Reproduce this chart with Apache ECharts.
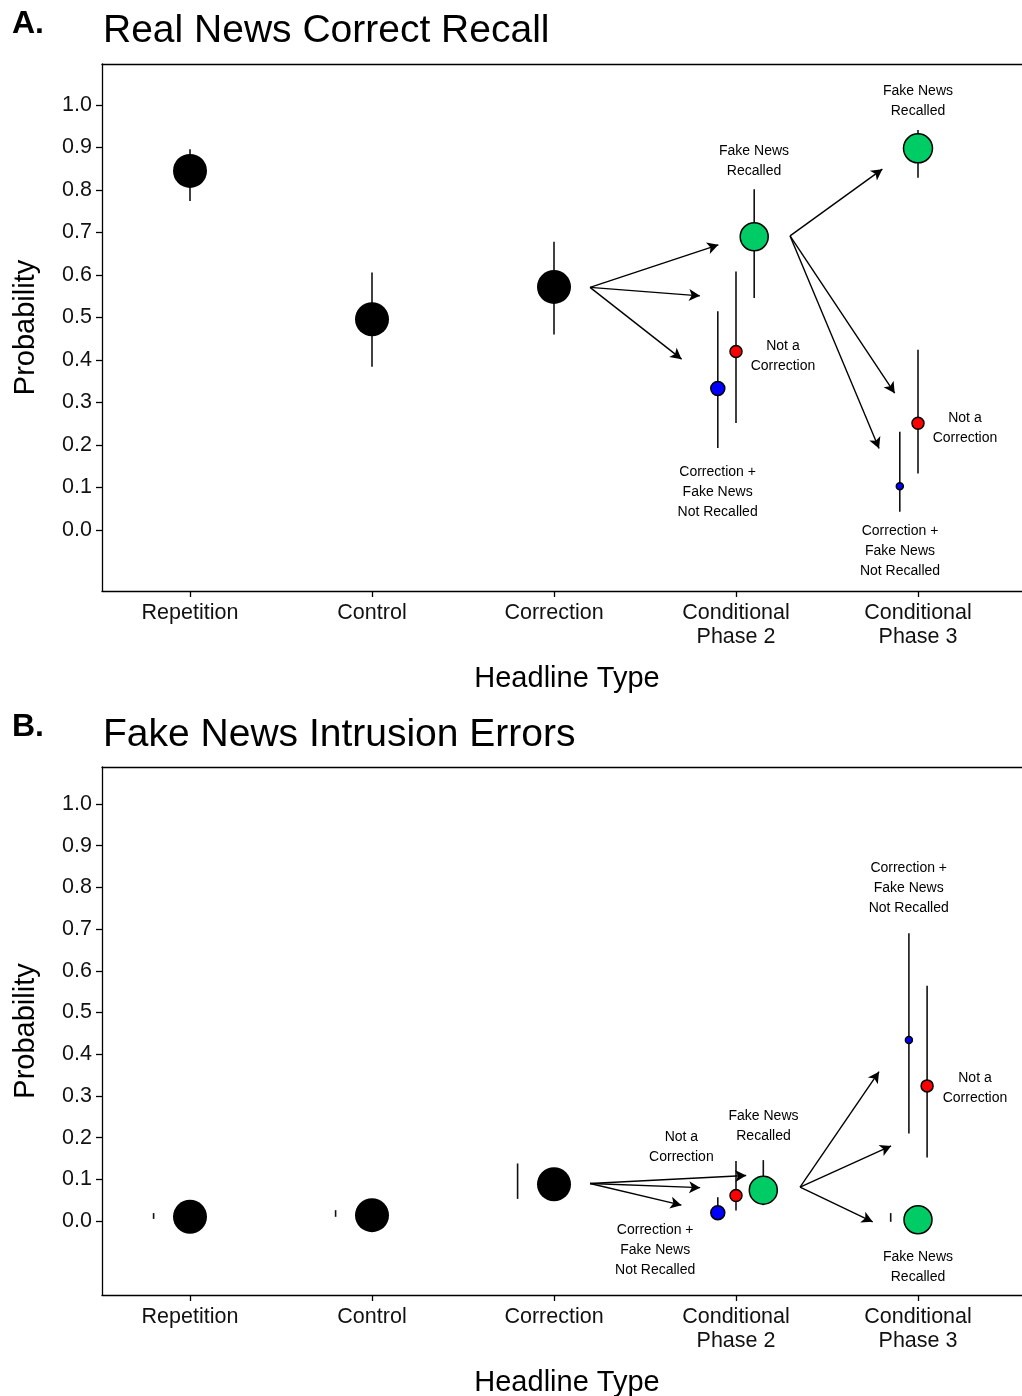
<!DOCTYPE html>
<html><head><meta charset="utf-8">
<script src="https://cdn.jsdelivr.net/npm/echarts@6/dist/echarts.min.js"></script>
<style>html,body{margin:0;padding:0;background:#fff}#c{width:1022px;height:1396px}</style>
</head><body><div id="c"></div>
<script>
// ---------- data ----------
const categories = ['Repetition', 'Control', 'Correction', 'Conditional\nPhase 2', 'Conditional\nPhase 3'];
const yTicks = [0, 0.1, 0.2, 0.3, 0.4, 0.5, 0.6, 0.7, 0.8, 0.9, 1.0];

// Panel A: Real News Correct Recall
const recallMain   = [0.845, 0.496, 0.572];
const recallMainLo = [0.774, 0.384, 0.460];
const recallMainHi = [0.896, 0.606, 0.678];
// conditional groups: [Phase 2, Phase 3]
const recallFakeRecalled     = [0.690, 0.898];
const recallFakeRecalledLo   = [0.546, 0.829];
const recallFakeRecalledHi   = [0.802, 0.941];
const recallNotCorrection    = [0.420, 0.251];
const recallNotCorrectionLo  = [0.252, 0.133];
const recallNotCorrectionHi  = [0.608, 0.424];
const recallCorrNotRecalled   = [0.333, 0.103];
const recallCorrNotRecalledLo = [0.193, 0.043];
const recallCorrNotRecalledHi = [0.515, 0.231];

// Panel B: Fake News Intrusion Errors
const intrusionMain   = [0.010, 0.014, 0.088];
const intrusionMainLo = [0.005, 0.010, 0.053];
const intrusionMainHi = [0.019, 0.026, 0.138];
const intrusionFakeRecalled     = [0.074, 0.003];
const intrusionFakeRecalledLo   = [0.038, -0.002];
const intrusionFakeRecalledHi   = [0.146, 0.019];
const intrusionNotCorrection    = [0.061, 0.324];
const intrusionNotCorrectionLo  = [0.025, 0.152];
const intrusionNotCorrectionHi  = [0.144, 0.564];
const intrusionCorrNotRecalled   = [0.020, 0.434];
const intrusionCorrNotRecalledLo = [0.005, 0.210];
const intrusionCorrNotRecalledHi = [0.057, 0.690];

// group labels
const lblFake = 'Fake News\nRecalled';
const lblNot = 'Not a\nCorrection';
const lblCorr = 'Correction +\nFake News\nNot Recalled';

// ---------- layout / style ----------
const FONT = 'Liberation Sans, Arial, sans-serif';
const GREEN = '#00cc66', RED = '#ff0000', BLUE = '#0000ff';
const xMin = 1 - 88 / 182, xMax = 1 + 842 / 182;

// dodge offsets (category units)
const dodgeA = {main: [0, 0, 0], mainErr: [0, 0, 0], fake: [0.1, 0], fakeErr: [0.1, 0], not: [0, 0], corr: [-0.1, -0.1]};
const dodgeB = {main: [0, 0, 0], mainErr: [-0.2, -0.2, -0.2], fake: [0.15, 0], fakeErr: [0.15, -0.15], not: [0, 0.05], corr: [-0.1, -0.05]};
const sizeA = {main: 34, fake: [28, 29], not: [12, 12], corr: [14, 7]};
const sizeB = {main: 34, fake: [28, 28], not: [12, 12], corr: [14, 7]};

// arrows (annotation, data coords)
const arrowsA = [
  [[3.198, 0.571], [3.903, 0.671]], [[3.198, 0.571], [3.802, 0.551]], [[3.198, 0.571], [3.701, 0.402]],
  [[4.297, 0.692], [4.804, 0.849]], [[4.297, 0.692], [4.872, 0.322]], [[4.297, 0.692], [4.786, 0.192]]
];
const arrowsB = [
  [[3.198, 0.090], [4.056, 0.109]], [[3.198, 0.090], [3.803, 0.080]], [[3.198, 0.090], [3.700, 0.038]],
  [[4.352, 0.081], [4.786, 0.358]], [[4.352, 0.081], [4.852, 0.180]], [[4.352, 0.081], [4.751, -0.002]]
];
// text annotation anchors
const notesA = [
  [4.099, 0.869, lblFake], [4.258, 0.409, lblNot], [3.899, 0.090, lblCorr],
  [5.0, 1.009, lblFake], [5.258, 0.239, lblNot], [4.901, -0.049, lblCorr]
];
const notesB = [
  [3.70, 0.178, lblNot], [4.151, 0.2285, lblFake], [3.556, -0.071, lblCorr],
  [4.949, 0.799, lblCorr], [5.313, 0.319, lblNot], [5.0, -0.111, lblFake]
];

function buildPanel(gi, d) {
  const err = [];
  const pts = [];
  d.main.forEach((v, i) => {
    err.push([i + 1 + d.dodge.mainErr[i], d.mainLo[i], d.mainHi[i]]);
    pts.push({value: [i + 1 + d.dodge.main[i], v], symbolSize: d.size.main, itemStyle: {color: '#000', borderWidth: 0, opacity: 1}});
  });
  const groups = [
    ['corr', d.corr, d.corrLo, d.corrHi, BLUE],
    ['not', d.not, d.notLo, d.notHi, RED],
    ['fake', d.fake, d.fakeLo, d.fakeHi, GREEN]
  ];
  groups.forEach(([k, vals, lo, hi, col]) => {
    vals.forEach((v, j) => {
      const base = 4 + j;
      const errOff = (d.dodge[k + 'Err'] || d.dodge[k])[j];
      err.push([base + errOff, lo[j], hi[j]]);
      pts.push({value: [base + d.dodge[k][j], v], symbolSize: d.size[k][j],
        itemStyle: {color: col, borderColor: '#000', borderWidth: 1.5, opacity: 1}});
    });
  });
  return [
    {
      type: 'custom', xAxisIndex: gi, yAxisIndex: gi, z: 2, silent: true,
      data: err, encode: {x: 0, y: [1, 2]},
      renderItem: function (params, api) {
        const p1 = api.coord([api.value(0), api.value(1)]);
        const p2 = api.coord([api.value(0), api.value(2)]);
        return {type: 'line', shape: {x1: p1[0], y1: p1[1], x2: p2[0], y2: p2[1]},
          style: {stroke: '#111', lineWidth: 1.6}};
      }
    },
    {
      type: 'scatter', xAxisIndex: gi, yAxisIndex: gi, z: 3, silent: true,
      itemStyle: {opacity: 1},
      data: pts,
      markLine: {
        silent: true, symbol: ['none', 'arrow'], symbolSize: [9, 11],
        lineStyle: {color: '#000', width: 1.4, type: 'solid', opacity: 1},
        itemStyle: {color: '#000'},
        label: {show: false}, animation: false,
        data: d.arrows.map(a => [{coord: a[0]}, {coord: a[1]}])
      }
    },
    {
      type: 'scatter', xAxisIndex: gi, yAxisIndex: gi, z: 4, silent: true,
      symbolSize: 1, itemStyle: {color: 'rgba(0,0,0,0)', opacity: 1},
      data: d.notes.map(n => ({value: [n[0], n[1]], name: n[2]})),
      label: {show: true, position: 'inside', formatter: '{b}', color: '#000',
        fontFamily: FONT, fontSize: 14, lineHeight: 20, align: 'center', verticalAlign: 'middle'}
    }
  ];
}

const seriesA = buildPanel(0, {
  main: recallMain, mainLo: recallMainLo, mainHi: recallMainHi,
  fake: recallFakeRecalled, fakeLo: recallFakeRecalledLo, fakeHi: recallFakeRecalledHi,
  not: recallNotCorrection, notLo: recallNotCorrectionLo, notHi: recallNotCorrectionHi,
  corr: recallCorrNotRecalled, corrLo: recallCorrNotRecalledLo, corrHi: recallCorrNotRecalledHi,
  dodge: dodgeA, size: sizeA, arrows: arrowsA, notes: notesA
});
const seriesB = buildPanel(1, {
  main: intrusionMain, mainLo: intrusionMainLo, mainHi: intrusionMainHi,
  fake: intrusionFakeRecalled, fakeLo: intrusionFakeRecalledLo, fakeHi: intrusionFakeRecalledHi,
  not: intrusionNotCorrection, notLo: intrusionNotCorrectionLo, notHi: intrusionNotCorrectionHi,
  corr: intrusionCorrNotRecalled, corrLo: intrusionCorrNotRecalledLo, corrHi: intrusionCorrNotRecalledHi,
  dodge: dodgeB, size: sizeB, arrows: arrowsB, notes: notesB
});

const AXLINE = {show: true, onZero: false, lineStyle: {color: '#000', width: 1.3}};
function xAxis(gi) {
  return {
    type: 'value', gridIndex: gi, min: xMin, max: xMax, position: 'bottom',
    name: 'Headline Type', nameLocation: 'middle', nameGap: 73,
    nameTextStyle: {fontFamily: FONT, fontSize: 29, color: '#000'},
    axisLine: AXLINE,
    axisTick: {show: true, length: 6, customValues: [1, 2, 3, 4, 5], lineStyle: {color: '#000', width: 1.3}},
    axisLabel: {customValues: [1, 2, 3, 4, 5], margin: 10, fontFamily: FONT, fontSize: 21.5, color: '#111',
      lineHeight: 24, formatter: v => categories[Math.round(v) - 1]},
    splitLine: {show: false}
  };
}
function xAxisTop(gi) {
  return {
    type: 'value', gridIndex: gi, min: xMin, max: xMax, position: 'top',
    axisLine: AXLINE, axisTick: {show: false}, axisLabel: {show: false}, splitLine: {show: false}
  };
}
function yAxis(gi, min, max) {
  return {
    type: 'value', gridIndex: gi, min: min, max: max,
    name: 'Probability', nameLocation: 'middle', nameGap: 62, nameRotate: 90,
    nameTextStyle: {fontFamily: FONT, fontSize: 29, color: '#000'},
    axisLine: AXLINE,
    axisTick: {show: true, length: 6, customValues: yTicks, lineStyle: {color: '#000', width: 1.3}},
    axisLabel: {customValues: yTicks, margin: 10, fontFamily: FONT, fontSize: 21.5, color: '#111',
      formatter: v => v.toFixed(1)},
    splitLine: {show: false}
  };
}

const chart = echarts.init(document.getElementById('c'), null, {renderer: 'canvas'});
chart.setOption({
  animation: false,
  backgroundColor: '#fff',
  title: [
    {text: 'A.', left: 12, top: 8, padding: 0, textStyle: {fontFamily: FONT, fontSize: 32, fontWeight: 'bold', color: '#000'}},
    {text: 'Real News Correct Recall', left: 103, top: 12, padding: 0, textStyle: {fontFamily: FONT, fontSize: 39, fontWeight: 'normal', color: '#000'}},
    {text: 'B.', left: 12, top: 711, padding: 0, textStyle: {fontFamily: FONT, fontSize: 32, fontWeight: 'bold', color: '#000'}},
    {text: 'Fake News Intrusion Errors', left: 103, top: 716, padding: 0, textStyle: {fontFamily: FONT, fontSize: 39, fontWeight: 'normal', color: '#000'}}
  ],
  grid: [
    {left: 102, top: 64, width: 930, height: 527, show: false, containLabel: false, outerBoundsMode: 'none'},
    {left: 102, top: 767, width: 930, height: 528, show: false, containLabel: false, outerBoundsMode: 'none'}
  ],
  xAxis: [xAxis(0), xAxis(1), xAxisTop(0), xAxisTop(1)],
  yAxis: [yAxis(0, -61 / 425, 466 / 425), yAxis(1, -74 / 417, 454 / 417)],
  series: seriesA.concat(seriesB)
});
</script></body></html>
